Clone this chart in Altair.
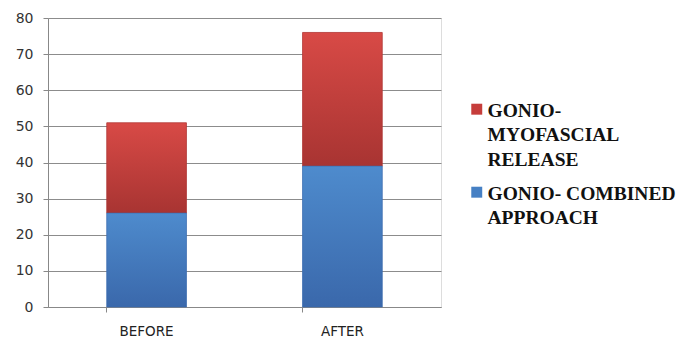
import altair as alt
import pandas as pd

# Stacked totals per measurement point
phases = ["BEFORE", "AFTER"]
combined = [26, 39]      # GONIO- COMBINED APPROACH (bottom segment)
myofascial = [25, 37]    # GONIO-MYOFASCIAL RELEASE (top segment)

series_names = ["GONIO-MYOFASCIAL RELEASE", "GONIO- COMBINED APPROACH"]
series_colors = ["#c63d3b", "#4680c4"]

rows = []
for p, c, m in zip(phases, combined, myofascial):
    rows.append({"phase": p, "series": series_names[1], "start": 0, "end": c})
    rows.append({"phase": p, "series": series_names[0], "start": c, "end": c + m})
df = pd.DataFrame(rows)

x_enc = alt.X(
    "phase:N",
    sort=phases,
    scale=alt.Scale(paddingInner=0.593, paddingOuter=0.3),
    axis=alt.Axis(
        title=None, labelAngle=0, labelFont="DejaVu Sans", labelFontSize=13.5,
        labelColor="#222222", labelPadding=12, tickSize=5, tickColor="#888888",
        domainColor="#888888", bandPosition=0, grid=False,
    ),
)
y_enc = alt.Y(
    "start:Q",
    scale=alt.Scale(domain=[0, 80]),
    axis=alt.Axis(
        title=None, values=list(range(0, 81, 10)), labelFont="DejaVu Sans",
        labelFontSize=14, labelColor="#333333", labelPadding=10, tickSize=5,
        tickColor="#888888", domainColor="#888888", gridColor="#8c8c8c",
        gridWidth=1,
    ),
)

base = alt.Chart(df)

# Solid bars carry the legend; the square marker sits a little low so it
# lines up with the first text line of each wrapped label
legend_layer = base.mark_bar().encode(
    x=x_enc,
    y=y_enc,
    y2="end:Q",
    color=alt.Color(
        "series:N",
        scale=alt.Scale(domain=series_names, range=series_colors),
        legend=alt.Legend(
            title=None, orient="none", legendX=419, legendY=74,
            labelFont="Liberation Serif", labelFontSize=19.5, labelFontWeight="bold",
            labelColor="#111111", labelLimit=300,
            symbolType="M-1,0.36H1V2.36H-1Z",
            symbolSize=120, symbolStrokeWidth=0, rowPadding=5,
            labelExpr="split(datum.label === 'GONIO-MYOFASCIAL RELEASE' ? 'GONIO-|MYOFASCIAL|RELEASE' : 'GONIO- COMBINED|APPROACH', '|')",
            labelBaseline="top", labelOffset=1,
        ),
    ),
)


def shaded(name, top, bottom):
    return base.transform_filter(alt.datum.series == name).mark_bar(
        fill=alt.Gradient(
            gradient="linear", x1=0, y1=0, x2=0, y2=1,
            stops=[
                alt.GradientStop(color=top, offset=0),
                alt.GradientStop(color=bottom, offset=1),
            ],
        ),
        stroke=bottom, strokeWidth=0.6,
    ).encode(x=x_enc, y=y_enc, y2="end:Q")


chart = alt.layer(
    legend_layer,
    shaded(series_names[0], "#d84a46", "#a83432"),
    shaded(series_names[1], "#4e8bcd", "#3a68ab"),
).properties(
    width=393, height=289,
    padding={"left": 48, "top": 18, "right": 239, "bottom": 31},
    autosize=alt.AutoSizeParams(type="none"),
).configure_view(stroke=None).configure(
    background="white",
    style={"guide-label": {"lineHeight": 24.5}},
)

chart.save("out.html", embed_options={"renderer": "svg", "actions": False})
